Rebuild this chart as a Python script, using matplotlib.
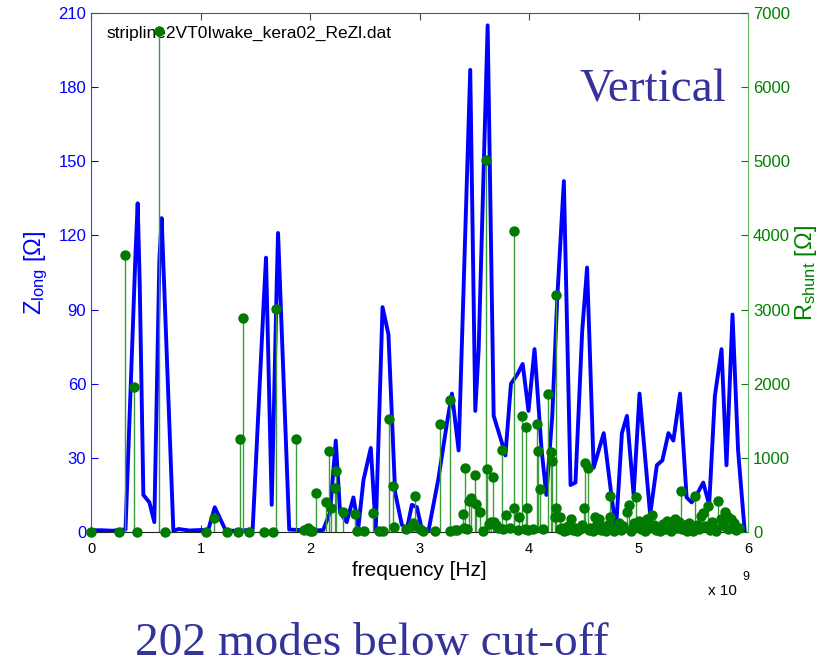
import matplotlib
matplotlib.use('Agg')
import matplotlib.pyplot as plt
from matplotlib.ticker import FuncFormatter

plt.rcParams['font.family'] = ['Liberation Sans', 'DejaVu Sans']
plt.rcParams['mathtext.fontset'] = 'custom'
plt.rcParams['mathtext.rm'] = 'Liberation Sans'
plt.rcParams['mathtext.it'] = 'Liberation Sans'

BLUE = '#0000ff'
GREEN = '#008000'
SLIDE_BLUE = '#333399'

# Re(Z_long) of the stripline, frequency in GHz, impedance in Ohm
z_freq = [0.00, 0.10, 0.20, 0.27, 0.315, 0.405, 0.426, 0.445, 0.478, 0.533,
          0.578, 0.624, 0.645, 0.752, 0.80, 0.90, 1.00, 1.07, 1.13, 1.23,
          1.30, 1.40, 1.476, 1.577, 1.598, 1.65, 1.696, 1.708, 1.81, 1.90,
          2.00, 2.12, 2.183, 2.235, 2.274, 2.335, 2.396, 2.442, 2.488, 2.555,
          2.60, 2.662, 2.716, 2.777, 2.838, 2.884, 2.93, 2.976, 3.021, 3.082,
          3.174, 3.25, 3.296, 3.357, 3.463, 3.509, 3.54, 3.622, 3.677, 3.753,
          3.784, 3.835, 3.896, 3.942, 3.995, 4.05, 4.115, 4.158, 4.212, 4.258,
          4.318, 4.379, 4.424, 4.485, 4.53, 4.59, 4.682, 4.752, 4.794, 4.848,
          4.894, 4.955, 5.009, 5.106, 5.167, 5.218, 5.273, 5.318, 5.379, 5.439,
          5.485, 5.53, 5.591, 5.645, 5.697, 5.758, 5.803, 5.858, 5.909, 5.97]
z_long = [0.7, 0.7, 0.5, 0.9, 1.0, 111, 133, 100, 15, 12,
          4, 110, 127, 0.5, 1.2, 0.6, 0.8, 0.8, 10, 0.6,
          0.5, 0.7, 1.0, 93, 111, 11, 101, 121, 1.0, 0.8,
          0.5, 0.8, 8, 37, 8, 4, 14, 2, 21, 34,
          1, 91, 80, 16, 3, 1, 11, 10, 1, 0.5,
          22, 44, 56, 33, 187, 49, 74, 205, 47, 36,
          31, 60, 64, 68, 49, 74, 33, 15, 47, 95,
          142, 19, 20, 81, 107, 26, 40, 15, 1, 40,
          47, 15, 56, 7, 27, 29, 40, 37, 56, 14,
          12, 15, 20, 11, 55, 74, 27, 88, 33, 0]

# resonant modes below cut-off: frequency in GHz, shunt impedance in Ohm
mode_freq = [0.000, 0.260, 0.310, 0.395, 0.420, 0.621, 0.676, 1.047, 1.123, 1.240,
             1.345, 1.360, 1.388, 1.443, 1.583, 1.665, 1.687, 1.872, 1.945, 1.980,
             2.000, 2.015, 2.055, 2.150, 2.173, 2.190, 2.230, 2.237, 2.300, 2.410,
             2.426, 2.490, 2.579, 2.633, 2.670, 2.720, 2.760, 2.765, 2.877, 2.930,
             2.940, 2.960, 3.005, 3.030, 3.140, 3.189, 3.274, 3.280, 3.325, 3.340,
             3.393, 3.406, 3.415, 3.430, 3.450, 3.470, 3.510, 3.520, 3.550, 3.583,
             3.607, 3.620, 3.630, 3.650, 3.674, 3.680, 3.700, 3.720, 3.750, 3.765,
             3.793, 3.826, 3.860, 3.866, 3.900, 3.910, 3.940, 3.963, 3.970, 3.980,
             3.994, 4.034, 4.070, 4.080, 4.100, 4.130, 4.170, 4.200, 4.210, 4.240,
             4.247, 4.250, 4.280, 4.283, 4.300, 4.320, 4.344, 4.360, 4.380, 4.405,
             4.420, 4.440, 4.466, 4.480, 4.500, 4.510, 4.540, 4.550, 4.560, 4.580,
             4.600, 4.618, 4.620, 4.640, 4.660, 4.680, 4.700, 4.720, 4.740, 4.742,
             4.760, 4.780, 4.800, 4.820, 4.840, 4.860, 4.890, 4.910, 4.930, 4.950,
             4.960, 4.980, 5.000, 5.020, 5.040, 5.060, 5.080, 5.100, 5.120, 5.140,
             5.160, 5.180, 5.200, 5.220, 5.240, 5.260, 5.280, 5.300, 5.330, 5.350,
             5.370, 5.385, 5.400, 5.420, 5.440, 5.460, 5.480, 5.500, 5.516, 5.530,
             5.550, 5.570, 5.590, 5.610, 5.630, 5.650, 5.670, 5.690, 5.710, 5.730,
             5.750, 5.770, 5.790, 5.810, 5.820, 5.840, 5.850, 5.870, 5.890, 5.920]
mode_rshunt = [0, 0, 3740, 1950, 0, 6760, 0, 0, 190, 0,
               0, 1260, 2880, 0, 0, 0, 3010, 1250, 30, 60,
               20, 15, 520, 400, 1090, 320, 590, 820, 275, 240,
               10, 15, 250, 10, 10, 1530, 625, 70, 40, 80,
               120, 480, 45, 20, 15, 1450, 1775, 20, 30, 25,
               240, 60, 860, 40, 420, 455, 770, 377, 265, 20,
               5015, 845, 110, 130, 745, 130, 100, 60, 1110, 40,
               229, 50, 319, 4065, 30, 207, 1565, 40, 1420, 319,
               30, 40, 1460, 1090, 580, 45, 1865, 1075, 955, 200,
               3190, 319, 200, 40, 60, 20, 30, 80, 172, 25,
               50, 15, 40, 90, 330, 935, 865, 30, 60, 20,
               205, 40, 110, 170, 30, 70, 20, 100, 200, 485,
               40, 15, 60, 120, 30, 80, 274, 364, 20, 60,
               120, 468, 150, 40, 90, 20, 180, 60, 225, 100,
               30, 70, 15, 110, 40, 150, 80, 20, 180, 60,
               140, 553, 40, 90, 20, 120, 50, 15, 485, 100,
               40, 210, 250, 80, 350, 30, 130, 60, 20, 418,
               180, 90, 274, 210, 40, 170, 60, 120, 30, 50]

f_ticks = [0, 1, 2, 3, 4, 5, 6]
z_ticks = [0, 30, 60, 90, 120, 150, 180, 210]
r_ticks = [0, 1000, 2000, 3000, 4000, 5000, 6000, 7000]


def ghz_to_hz(values):
    """
    Converts a list of frequencies from GHz to Hz.
    :param values: Frequencies in GHz
    :return: Frequencies in Hz
    """
    return [v * 1e9 for v in values]


fig = plt.figure(figsize=(8.32, 6.64), dpi=100)
ax = fig.add_axes([0.1094, 0.1988, 0.7897, 0.7816])

ax.plot(ghz_to_hz(z_freq), z_long, color=BLUE, lw=2.8)
ax.set_xlim(0, 6e9)
ax.set_ylim(0, 210)
ax.set_xticks(ghz_to_hz(f_ticks))
ax.xaxis.set_major_formatter(FuncFormatter(lambda v, pos: '%d' % round(v / 1e9)))
ax.set_yticks(z_ticks)
ax.tick_params(axis='x', direction='in', length=5, top=True, labelsize=10.5,
               color='#444444', pad=7)
ax.tick_params(axis='y', direction='in', length=5, colors=BLUE, labelsize=12)
ax.spines['left'].set_color('#4040ff')
ax.spines['top'].set_color('#555555')
ax.spines['bottom'].set_color('#222222')
ax.spines['right'].set_visible(False)
ax.set_ylabel('Z$_{long}$ [Ω]', color=BLUE, fontsize=17, labelpad=6)
ax.set_xlabel('frequency [Hz]', fontsize=15, labelpad=4)

# shunt impedance of each mode on the right-hand axis
ax2 = ax.twinx()
markerline, stemlines, baseline = ax2.stem(ghz_to_hz(mode_freq), mode_rshunt)
plt.setp(stemlines, color='#3c9c3c', linewidth=1.0)
plt.setp(markerline, color='#007a00', markersize=6.5, clip_on=False)
baseline.set_visible(False)
ax2.set_xlim(0, 6e9)
ax2.set_ylim(0, 7000)
ax2.set_yticks(r_ticks)
ax2.tick_params(axis='y', direction='in', length=5, colors=GREEN, labelsize=12)
ax2.spines['right'].set_color('#5cb85c')
for side in ['left', 'top', 'bottom']:
    ax2.spines[side].set_visible(False)
ax2.set_ylabel('R$_{shunt}$ [Ω]', color=GREEN, fontsize=17, labelpad=2)

ax.text(0.023, 0.96, 'stripline2VT0Iwake_kera02_ReZl.dat', transform=ax.transAxes,
        fontsize=12.5, va='center', ha='left')

fig.text(708 / 832, 1 - 595 / 664, 'x 10', fontsize=11, ha='left', va='baseline')
fig.text(742 / 832, 1 - 580 / 664, '9', fontsize=9, ha='left', va='baseline')

fig.text(727 / 832, 1 - 101 / 664, 'Vertical', family='Liberation Serif',
         fontsize=34, color=SLIDE_BLUE, ha='right', va='baseline')
fig.text(372 / 832, 1 - 655 / 664, '202 modes below cut-off', family='Liberation Serif',
         fontsize=34, color=SLIDE_BLUE, ha='center', va='baseline')

fig.savefig('out.png', dpi=100)
